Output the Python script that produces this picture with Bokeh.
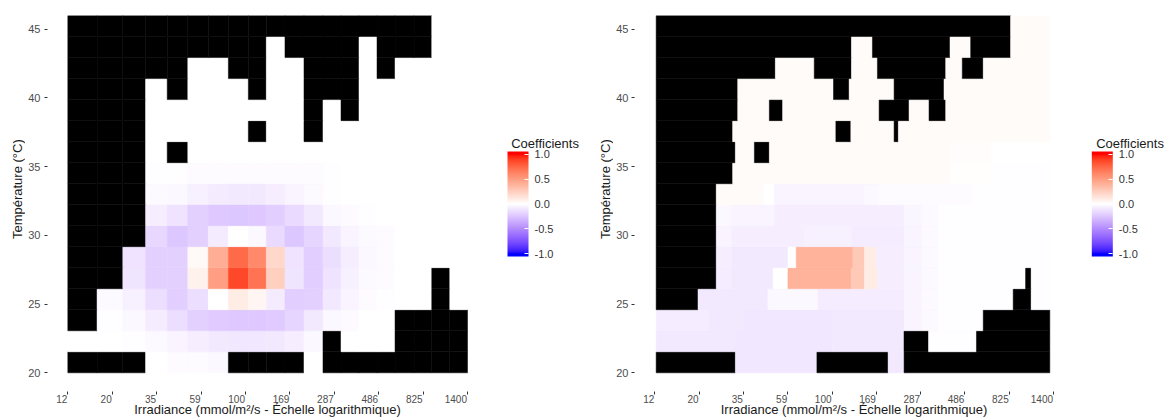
import numpy as np
from bokeh.plotting import figure
from bokeh.models import (ColumnDataSource, LinearColorMapper, ColorBar, FixedTicker,
                          PrintfTickFormatter, Range1d, LogAxis)
from bokeh.core.properties import value
from bokeh.layouts import row
from bokeh.transform import transform
from bokeh.embed import file_html
from bokeh.resources import INLINE

N = None

# ---------------- data ----------------
x_tick_labels = ["12", "20", "35", "59", "100", "169", "287", "486", "825", "1400"]
y_ticks = [20, 25, 30, 35, 40, 45]
legend_ticks = [-1.0, -0.5, 0.0, 0.5, 1.0]

# temperature bin edges (17 rows)
temp_edges = [20.0, 21.53, 23.06, 24.59, 26.12, 27.65, 29.18, 30.71, 32.24,
              33.76, 35.29, 36.82, 38.35, 39.88, 41.41, 42.94, 44.47, 46.0]

# left panel: irradiance bin edges (20 columns)
irr_edges_a = [12, 17.0, 23.1, 30.3, 39.2, 50.1, 63.9, 81.2, 103, 127.6, 159.3,
               199.8, 250.5, 310.5, 384.7, 476.7, 590.8, 740.9, 915, 1134, 1400]

# left panel coefficients, rows bottom (20 C) -> top (46 C); None = no data
coef_a = [
    [N, N, N, 0.0, -0.012, -0.018, -0.03, N, N, N, N, 0.0, N, N, N, N, N, N, N, N],
    [0.0, 0.0, -0.006, -0.025, -0.05, -0.07, -0.095, -0.105, -0.105, -0.095, -0.07, -0.035, N, 0.0, 0.0, 0.0, N, N, N, N],
    [N, -0.006, -0.03, -0.075, -0.14, -0.2, -0.225, -0.23, -0.23, -0.225, -0.18, -0.095, -0.035, -0.018, 0.0, 0.0, N, N, N, N],
    [N, -0.024, -0.06, -0.14, -0.21, -0.14, 0.0, 0.1, 0.05, -0.085, -0.21, -0.2, -0.095, -0.05, -0.018, -0.006, 0.0, 0.0, N, 0.0],
    [N, N, -0.11, -0.2, -0.2, 0.07, 0.5, 0.87, 0.7, 0.25, -0.11, -0.21, -0.12, -0.06, -0.024, -0.012, 0.0, 0.0, N, 0.0],
    [N, N, -0.12, -0.2, -0.2, 0.03, 0.42, 0.74, 0.6, 0.2, -0.12, -0.21, -0.14, -0.07, -0.03, -0.012, 0.0, 0.0, 0.0, 0.0],
    [N, N, N, -0.17, -0.24, -0.2, -0.085, 0.0, -0.035, -0.155, -0.24, -0.18, -0.095, -0.05, -0.024, -0.012, 0.0, 0.0, 0.0, 0.0],
    [N, N, N, -0.07, -0.12, -0.2, -0.235, -0.24, -0.235, -0.21, -0.155, -0.095, -0.035, -0.018, -0.006, 0.0, 0.0, 0.0, 0.0, 0.0],
    [N, N, N, -0.024, -0.035, -0.06, -0.085, -0.095, -0.095, -0.07, -0.05, -0.024, -0.006, 0.0, 0.0, 0.0, 0.0, 0.0, 0.0, 0.0],
    [N, N, N, -0.006, -0.006, -0.012, -0.018, -0.018, -0.018, -0.018, -0.012, -0.012, -0.006, 0.0, 0.0, 0.0, 0.0, 0.0, 0.0, 0.0],
    [N, N, N, 0.0, N, 0.0, 0.0, 0.0, 0.0, 0.0, 0.0, 0.0, 0.0, 0.0, 0.0, 0.0, 0.0, 0.0, 0.0, 0.0],
    [N, N, N, 0.0, 0.0, 0.0, 0.0, 0.0, N, 0.0, 0.0, N, 0.0, 0.0, 0.0, 0.0, 0.0, 0.0, 0.0, 0.0],
    [N, N, N, 0.0, 0.0, 0.0, 0.0, 0.0, 0.0, 0.0, 0.0, N, 0.0, N, 0.0, 0.0, 0.0, 0.0, 0.0, 0.0],
    [N, N, N, 0.0, N, 0.0, 0.0, 0.0, N, 0.0, 0.0, N, N, N, 0.0, 0.0, 0.0, 0.0, 0.0, 0.0],
    [N, N, N, N, N, 0.0, 0.0, N, N, 0.0, 0.0, N, N, N, 0.0, N, 0.0, 0.0, 0.0, 0.0],
    [N, N, N, N, N, N, N, N, N, 0.0, N, N, N, N, 0.0, N, N, N, 0.0, 0.0],
    [N, N, N, N, N, N, N, N, N, N, N, N, N, N, N, N, N, N, 0.0, 0.0],
]

# right panel: per temperature row, irradiance break points and segment values
irr_breaks_b = [
    [12.2, 31.4, 83.1, 194.4, 235.2, 1339],
    [12.2, 31, 100, 235, 315, 558, 1339],
    [12.2, 22.7, 33.7, 102.5, 236, 290, 352, 605, 1339],
    [12.2, 20.1, 46.3, 84.1, 236, 290, 352, 865, 1072, 1339],
    [12.2, 25.0, 29.9, 49.2, 58.8, 125, 146.5, 171.9, 236, 290, 352, 1003, 1072, 1339],
    [12.2, 25.0, 29.9, 58.8, 64.9, 127.7, 146.5, 168.5, 236, 290, 352, 1339],
    [12.2, 25.0, 29.9, 71.7, 125, 236, 290, 352, 1339],
    [12.2, 25.0, 29.9, 50.1, 236, 290, 352, 1339],
    [12.2, 25.0, 44.3, 50.1, 146.5, 171.9, 522.6, 1339],
    [12.2, 30.4, 412, 663, 1339],
    [12.2, 31.4, 39.4, 47.1, 412, 663, 1339],
    [12.2, 30.4, 104.2, 124.6, 208.8, 219.7, 1339],
    [12.2, 32.3, 47.1, 55.2, 174.6, 249.6, 316.8, 386.6, 1339],
    [12.2, 32.3, 101.3, 122.1, 208.8, 378.8, 1339],
    [12.2, 50.6, 80.5, 125.5, 171.1, 386.6, 471.1, 605.2, 1339],
    [12.2, 125.5, 161.2, 406.9, 520.7, 838.7, 1339],
    [12.2, 838.7, 1339],
]
coef_b = [
    [N, -0.1, N, -0.09, N],
    [-0.09, -0.1, -0.09, N, -0.01, N],
    [-0.08, -0.09, -0.1, -0.09, -0.05, -0.025, -0.01, N],
    [N, -0.09, -0.03, -0.08, -0.045, -0.025, -0.01, N, -0.01],
    [N, -0.08, -0.09, 0.0, 0.4, 0.28, 0.1, -0.07, -0.045, -0.025, -0.01, N, -0.01],
    [N, -0.07, -0.09, 0.0, 0.4, 0.28, 0.1, -0.07, -0.045, -0.025, -0.01],
    [N, -0.05, -0.07, -0.06, -0.08, -0.045, -0.025, -0.01],
    [N, -0.03, -0.045, -0.07, -0.04, -0.02, -0.01],
    [N, 0.025, 0.0, -0.05, -0.03, -0.015, -0.008],
    [N, 0.025, 0.01, -0.005],
    [N, 0.025, N, 0.025, 0.015, 0.0],
    [N, 0.025, N, 0.025, N, 0.025],
    [N, 0.025, N, 0.025, N, 0.025, N, 0.025],
    [N, 0.025, N, 0.025, N, 0.025],
    [N, 0.025, N, 0.025, N, 0.025, N, 0.025],
    [N, 0.025, N, 0.025, N, 0.025],
    [N, 0.025],
]

# ---------------- colour scale (blue - white - red, interpolated in Lab) ----------------
M_RGB2XYZ = np.array([[0.4124564, 0.3575761, 0.1804375],
                      [0.2126729, 0.7151522, 0.0721750],
                      [0.0193339, 0.1191920, 0.9503041]])
M_XYZ2RGB = np.linalg.inv(M_RGB2XYZ)
WP = np.array([0.95047, 1.0, 1.08883])


def rgb_to_lab(rgb):
    c = np.asarray(rgb, dtype=float) / 255.0
    lin = np.where(c <= 0.04045, c / 12.92, ((c + 0.055) / 1.055) ** 2.4)
    t = (M_RGB2XYZ @ lin) / WP
    f = np.where(t > (6 / 29) ** 3, np.cbrt(t), t / (3 * (6 / 29) ** 2) + 4 / 29)
    return np.array([116 * f[1] - 16, 500 * (f[0] - f[1]), 200 * (f[1] - f[2])])


def lab_to_hex(lab):
    L, a, b = lab
    fy = (L + 16) / 116
    fs = np.array([fy + a / 500, fy, fy - b / 200])
    t = np.where(fs > 6 / 29, fs ** 3, 3 * (6 / 29) ** 2 * (fs - 4 / 29)) * WP
    lin = np.clip(M_XYZ2RGB @ t, 0, 1)
    c = np.where(lin <= 0.0031308, 12.92 * lin, 1.055 * lin ** (1 / 2.4) - 0.055)
    r, g, bb = (np.clip(np.round(c * 255), 0, 255)).astype(int)
    return "#%02x%02x%02x" % (r, g, bb)


LAB_BLUE = rgb_to_lab([0, 0, 255])
LAB_WHITE = rgb_to_lab([255, 255, 255])
LAB_RED = rgb_to_lab([255, 0, 0])


def coef_colour(v):
    v = max(-1.0, min(1.0, v))
    end = LAB_BLUE if v < 0 else LAB_RED
    return lab_to_hex(LAB_WHITE + abs(v) * (end - LAB_WHITE))


def make_palette(lo, hi, n=257):
    centers = lo + (np.arange(n) + 0.5) * (hi - lo) / n
    return [coef_colour(v) for v in centers]


cell_mapper = LinearColorMapper(palette=make_palette(-1, 1), low=-1, high=1, nan_color="black")
bar_mapper = LinearColorMapper(palette=make_palette(-1.06, 1.06), low=-1.06, high=1.06)

# ---------------- layout constants ----------------
FONT = "Liberation Sans"
X_LO, X_HI = 9.42, 1776.8
Y_LO, Y_HI = 18.64, 46.0
FRAME_W = 440
H = 420
TICK_FONT_PX = 10
x_tick_pos = [float(round(v, 6)) for v in np.geomspace(12, 1400, len(x_tick_labels))]

# x tick labels are right-aligned on their ticks (as in the original):
# the label axis puts each label centre half a label-width left of its tick
PX_PER_DECADE = FRAME_W / np.log10(X_HI / X_LO)
label_pos = [float(round(t * 10 ** (-(0.5 + 0.556 * TICK_FONT_PX * len(s) / 2) / PX_PER_DECADE), 6))
             for t, s in zip(x_tick_pos, x_tick_labels)]


def grid_source(x_edges, t_edges, values):
    d = dict(left=[], right=[], bottom=[], top=[], coef=[])
    for i, row_vals in enumerate(values):
        for j, v in enumerate(row_vals):
            d["left"].append(x_edges[j]); d["right"].append(x_edges[j + 1])
            d["bottom"].append(t_edges[i]); d["top"].append(t_edges[i + 1])
            d["coef"].append(np.nan if v is None else v)
    return ColumnDataSource(d)


def segment_source(breaks, values, t_edges):
    d = dict(left=[], right=[], bottom=[], top=[], coef=[])
    for i, (brk, vals) in enumerate(zip(breaks, values)):
        for k, v in enumerate(vals):
            d["left"].append(brk[k]); d["right"].append(brk[k + 1])
            d["bottom"].append(t_edges[i]); d["top"].append(t_edges[i + 1])
            d["coef"].append(np.nan if v is None else v)
    return ColumnDataSource(d)


def blank_figure(width):
    f = figure(width=width, height=H, x_range=Range1d(0, width), y_range=Range1d(0, H),
               output_backend="svg", toolbar_location=None,
               x_axis_location=None, y_axis_location=None,
               min_border_left=0, min_border_right=0, min_border_top=0, min_border_bottom=0)
    f.outline_line_color = None
    f.grid.visible = False
    return f


def make_ytitle(width, cx):
    f = blank_figure(width)
    f.text(x=[cx], y=[H - 194], text=["Température (°C)"], angle=np.pi / 2,
           text_align="center", text_baseline="middle", text_font=value(FONT),
           text_font_size="13px", text_color="#1a1a1a")
    return f


def make_panel(source, border_left, ylabel_standoff):
    p = figure(width=border_left + FRAME_W, height=H, x_axis_type="log",
               x_range=Range1d(X_LO, X_HI), y_range=Range1d(Y_LO, Y_HI),
               output_backend="svg", toolbar_location=None,
               min_border_left=border_left, min_border_right=0,
               min_border_top=15, min_border_bottom=29)
    p.outline_line_color = None
    p.grid.visible = False
    p.quad(left="left", right="right", bottom="bottom", top="top", source=source,
           fill_color=transform("coef", cell_mapper),
           line_color=transform("coef", cell_mapper), line_width=0.5)

    # tick marks only on the main x axis
    p.xaxis.ticker = FixedTicker(ticks=x_tick_pos)
    p.xaxis.major_label_standoff = 0
    p.yaxis.ticker = FixedTicker(ticks=y_ticks)
    for ax in (p.xaxis[0], p.yaxis[0]):
        ax.axis_line_color = None
        ax.minor_tick_line_color = None
        ax.major_tick_in = 0
        ax.major_tick_out = 3
        ax.major_tick_line_color = "#333333"
        ax.major_label_text_font = FONT
    p.xaxis.major_label_text_color = None
    p.yaxis.major_label_text_color = "#4d4d4d"
    p.yaxis.major_label_text_font_size = "11px"
    p.yaxis.major_label_standoff = ylabel_standoff
    p.yaxis.axis_label = None

    # labels + title axis below the tick marks
    lab_ax = LogAxis(ticker=FixedTicker(ticks=label_pos),
                     major_label_overrides=dict(zip(label_pos, x_tick_labels)),
                     axis_line_color=None, major_tick_line_color=None,
                     minor_tick_line_color=None, major_tick_in=0, major_tick_out=0,
                     major_label_standoff=0,
                     major_label_text_font=FONT, major_label_text_font_size=f"{TICK_FONT_PX}px",
                     major_label_text_color="#4d4d4d",
                     axis_label="Irradiance (mmol/m²/s - Échelle logarithmique)",
                     axis_label_standoff=-4, axis_label_text_font=FONT,
                     axis_label_text_font_size="13px", axis_label_text_font_style="normal",
                     axis_label_text_color="#1a1a1a")
    p.add_layout(lab_ax, "below")
    return p


BAR_Y_SHIFT = 30   # ColorBar location offset observed in this Bokeh version


def make_legend(width, bar_x, title_x):
    lg = blank_figure(width)
    lg.text(x=[title_x], y=[H - 143], text=["Coefficients"], text_align="left",
            text_baseline="alphabetic", text_font=value(FONT), text_font_size="13px",
            text_color="#1a1a1a")
    cb = ColorBar(color_mapper=bar_mapper, location=(bar_x, H - 255 - BAR_Y_SHIFT),
                  width=21, height=105, padding=0, margin=0,
                  ticker=FixedTicker(ticks=legend_ticks),
                  formatter=PrintfTickFormatter(format="%.1f"),
                  major_label_text_font=FONT, major_label_text_font_size="11px",
                  major_label_text_color="#333333", label_standoff=6,
                  major_tick_line_color="white", major_tick_in=4, major_tick_out=0,
                  minor_tick_line_color=None, bar_line_color=None,
                  border_line_color=None, background_fill_alpha=0)
    lg.add_layout(cb, "center")
    return lg


# page columns: title strip | heat map | legend, twice (582 + 583 = 1165 px)
t1 = make_ytitle(25, 17)
p1 = make_panel(grid_source(irr_edges_a, temp_edges, coef_a), 22, 4)
l1 = make_legend(95, 20, 23.7)
t2 = make_ytitle(31, 22.5)
p2 = make_panel(segment_source(irr_breaks_b, coef_b, temp_edges), 20, 3)
l2 = make_legend(92, 18.3, 22.7)

layout = row(t1, p1, l1, t2, p2, l2)
open("out.html", "w").write(file_html(layout, INLINE))
